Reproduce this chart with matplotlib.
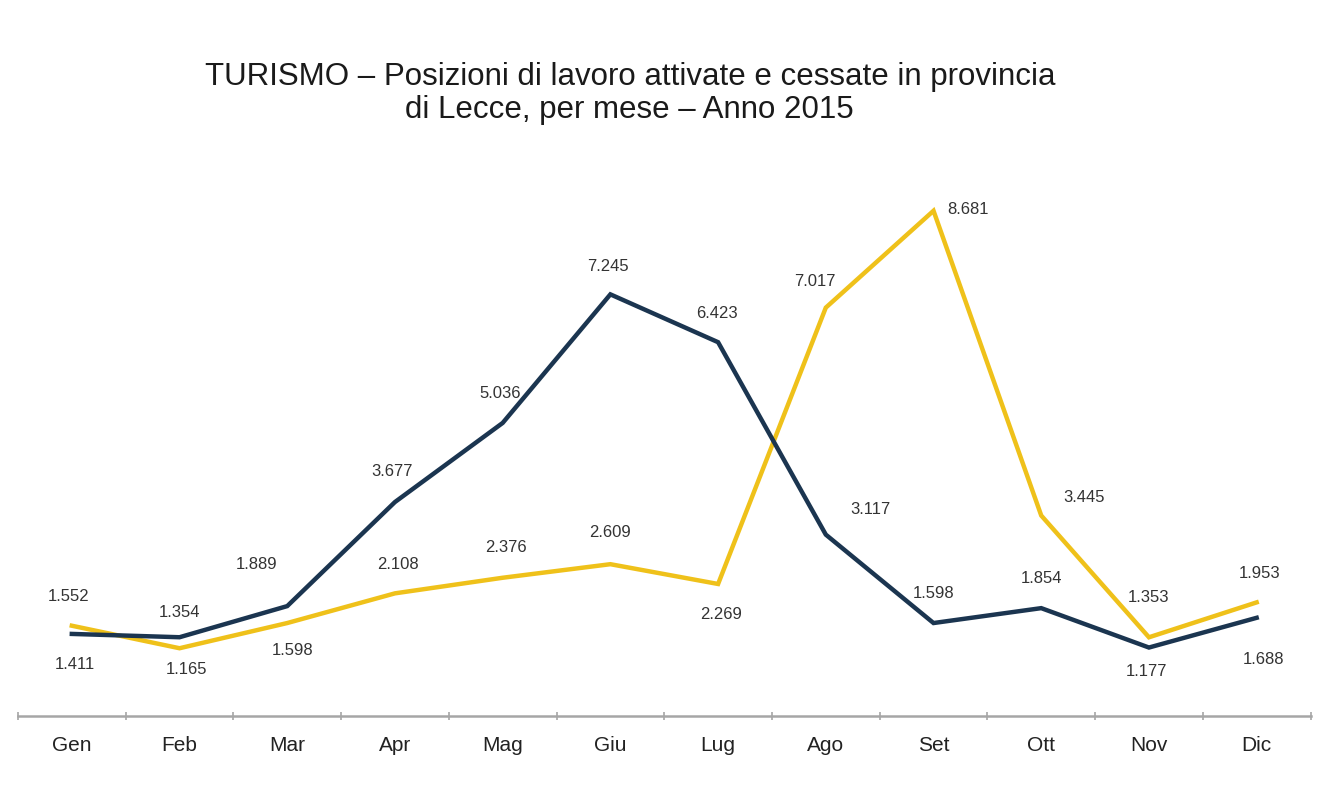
import numpy as np
import matplotlib
matplotlib.use("Agg")
import matplotlib.pyplot as plt

plt.rcParams['font.family'] = ['Liberation Sans', 'DejaVu Sans']

# dati: posizioni attivate / cessate, turismo, Lecce 2015
mesi = ["Gen", "Feb", "Mar", "Apr", "Mag", "Giu", "Lug", "Ago", "Set", "Ott", "Nov", "Dic"]
attivate = [1.411, 1.354, 1.889, 3.677, 5.036, 7.245, 6.423, 3.117, 1.598, 1.854, 1.177, 1.688]
cessate = [1.552, 1.165, 1.598, 2.108, 2.376, 2.609, 2.269, 7.017, 8.681, 3.445, 1.353, 1.953]

# spostamento etichette (punti)
off_att = [(2, -22), (0, 18), (-22, 30), (-2, 22), (-2, 21), (-2, 20), (-1, 21), (32, 18), (0, 21), (0, 21), (-2, -17), (5, -30)]
off_cess = [(-2, 21), (5, -15), (4, -20), (2, 21), (2, 22), (0, 23), (2, -22), (-8, 19), (25, 1), (31, 13), (0, 29), (2, 21)]

navy = "#1b3550"
giallo = "#efc11a"

fig = plt.figure(figsize=(13.4, 7.86), dpi=100)
ax = fig.add_axes([0.0134, 0.089, 0.9646, 0.7405])

x = np.arange(len(mesi))
ax.plot(x, cessate, color=giallo, lw=3.2, solid_joinstyle="miter", zorder=2)
ax.plot(x, attivate, color=navy, lw=3.2, solid_joinstyle="miter", zorder=3)

def fmt(v):
    return ("%.3f" % v)

for i in range(len(mesi)):
    ax.annotate(fmt(attivate[i]), (x[i], attivate[i]), xytext=off_att[i], textcoords="offset points",
                ha="center", va="center", fontsize=12, color="#333333")
    ax.annotate(fmt(cessate[i]), (x[i], cessate[i]), xytext=off_cess[i], textcoords="offset points",
                ha="center", va="center", fontsize=12, color="#333333")

ax.set_xlim(-0.5, len(mesi) - 0.5)
ax.set_ylim(0, 10)
for s in ["top", "right", "left"]:
    ax.spines[s].set_visible(False)
ax.spines["bottom"].set_color("#a6a6a6")
ax.spines["bottom"].set_linewidth(1.8)
ax.set_yticks([])
ax.set_xticks(np.arange(-0.5, len(mesi)), minor=False)
ax.set_xticklabels([])
ax.tick_params(axis="x", length=6, width=1.2, color="#a6a6a6", direction="inout")
for i, m in enumerate(mesi):
    ax.text(x[i], -0.5, m, ha="center", va="center", fontsize=15, color="#222222")

fig.text(0.470, 0.881, "TURISMO \u2013 Posizioni di lavoro attivate e cessate in provincia\ndi Lecce, per mese \u2013 Anno 2015",
         ha="center", va="center", fontsize=22.5, color="#1a1a1a", linespacing=1.12)

fig.savefig("out.png", dpi=100, facecolor="white")
